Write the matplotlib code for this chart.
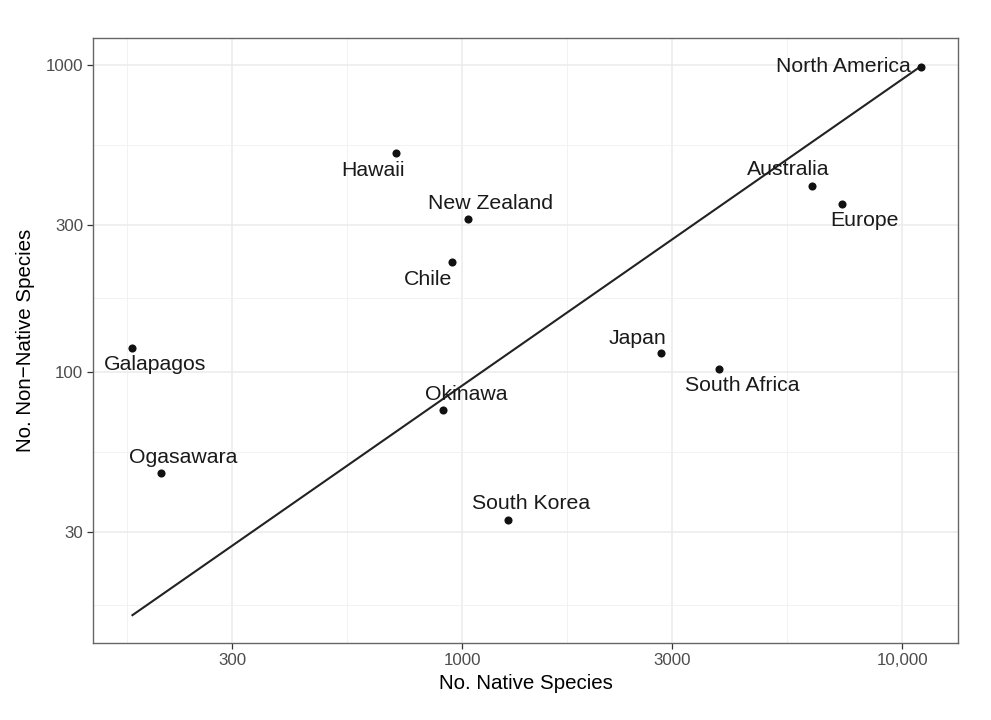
import numpy as np
import matplotlib
matplotlib.use("Agg")
import matplotlib.pyplot as plt
from matplotlib.ticker import FixedLocator, NullFormatter

plt.rcParams['font.family'] = ['Liberation Sans', 'DejaVu Sans']

# values (log-log)
regions = ["North America", "Hawaii", "New Zealand", "Chile", "Galapagos", "Okinawa",
           "Ogasawara", "South Korea", "Japan", "South Africa", "Australia", "Europe"]
native = [11010, 706, 1030, 947, 177.6, 903, 206.7, 1272, 2828, 3831, 6223, 7283]
non_native = [987, 517, 315, 227, 119.8, 75, 46.8, 32.9, 114.8, 101.8, 404, 353]

# fitted line end points
fit_x = [178, 11010]
fit_y = [16.06, 990]

x_breaks = [300, 1000, 3000, 10000]
x_labels = ["300", "1000", "3000", "10,000"]
y_breaks = [30, 100, 300, 1000]
y_labels = ["30", "100", "300", "1000"]

# label offsets in pixels (dx, dy) and alignment
label_pos = {
    "North America": (-10, 0, "right"),
    "Hawaii": (-23, -17.5, "center"),
    "New Zealand": (23, 15, "center"),
    "Chile": (-23.5, -17, "center"),
    "Galapagos": (23, -16.6, "center"),
    "Okinawa": (23, 15, "center"),
    "Ogasawara": (22.5, 15.4, "center"),
    "South Korea": (23, 16, "center"),
    "Japan": (-23, 15, "center"),
    "South Africa": (23, -16.7, "center"),
    "Australia": (-23.7, 15.7, "center"),
    "Europe": (23, -17.3, "center"),
}

fig = plt.figure(figsize=(9.91, 7.2), dpi=100)
ax = fig.add_axes([93 / 991, 1 - 643.3 / 720, (958.3 - 93) / 991, (643.3 - 38.3) / 720])

ax.set_xscale("log")
ax.set_yscale("log")
ax.set_xlim(144.8, 13400)
ax.set_ylim(13.0, 1222)

# major/minor grid like ggplot theme_bw
ax.xaxis.set_major_locator(FixedLocator(x_breaks))
ax.yaxis.set_major_locator(FixedLocator(y_breaks))
ax.set_xticklabels(x_labels)
ax.set_yticklabels(y_labels)
x_minor = [np.sqrt(100 * 300)] + [np.sqrt(a * b) for a, b in zip(x_breaks[:-1], x_breaks[1:])]
y_minor = [np.sqrt(10 * 30)] + [np.sqrt(a * b) for a, b in zip(y_breaks[:-1], y_breaks[1:])]
ax.xaxis.set_minor_locator(FixedLocator(x_minor))
ax.yaxis.set_minor_locator(FixedLocator(y_minor))
ax.xaxis.set_minor_formatter(NullFormatter())
ax.yaxis.set_minor_formatter(NullFormatter())
ax.grid(which="major", color="#EBEBEB", linewidth=1.1, zorder=0)
ax.grid(which="minor", color="#F2F2F2", linewidth=0.7, zorder=0)
ax.set_axisbelow(True)

ax.tick_params(which="major", length=4, width=0.9, color="#333333",
               labelsize=12.2, labelcolor="#4D4D4D", pad=3)
ax.tick_params(which="minor", length=0)
for s in ax.spines.values():
    s.set_color("#666666")
    s.set_linewidth(1.0)

ax.plot(fit_x, fit_y, color="#222222", linewidth=1.5, zorder=2)
ax.scatter(native, non_native, s=34, color="#111111", zorder=3, linewidths=0)

for name, x, y in zip(regions, native, non_native):
    dx, dy, ha = label_pos[name]
    ax.annotate(name, (x, y), xytext=(dx, dy), textcoords="offset pixels",
                ha=ha, va="center", fontsize=15.3, color="#1A1A1A", zorder=4)

ax.set_xlabel("No. Native Species", fontsize=14.8, labelpad=4)
ax.set_ylabel("No. Non\u2212Native Species", fontsize=14.8, labelpad=8)

fig.savefig("out.png", dpi=100)
